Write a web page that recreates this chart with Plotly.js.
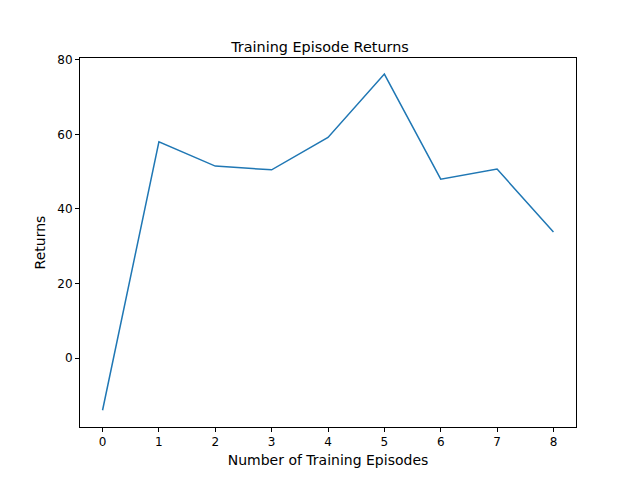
<!DOCTYPE html>
<html>
<head>
<meta charset="utf-8">
<script src="https://cdn.plot.ly/plotly-3.0.1.min.js"></script>
<style>html,body{margin:0;padding:0;background:#fff}</style>
</head>
<body>
<div id="chart" style="width:640px;height:480px"></div>
<script>
// Episode index and returns
const episodes = [0, 1, 2, 3, 4, 5, 6, 7, 8];
const returns = [-14, 58, 51.5, 50.5, 59.2, 76.2, 48, 50.7, 33.8];
const yTicks = [0, 20, 40, 60, 80];

const axisCommon = {
    showgrid: false,
    zeroline: false,
    showline: true,
    mirror: true,
    linecolor: '#000',
    linewidth: 1,
    ticks: 'outside',
    ticklen: 4,
    tickcolor: '#000',
    tickfont: { size: 12, color: '#000' }
};

Plotly.newPlot('chart', [{
    x: episodes,
    y: returns,
    type: 'scatter',
    mode: 'lines',
    line: { color: '#1f77b4', width: 1.5 }
}], {
    width: 640,
    height: 480,
    margin: { l: 80, r: 64, t: 58, b: 53 },
    paper_bgcolor: '#fff',
    plot_bgcolor: '#fff',
    font: { family: 'DejaVu Sans, sans-serif', size: 12, color: '#000' },
    title: {
        text: 'Training Episode Returns',
        font: { size: 14.4 },
        x: 0.5, xanchor: 'center',
        yref: 'paper', y: 1, yanchor: 'bottom',
        pad: { b: 6 }
    },
    showlegend: false,
    xaxis: Object.assign({}, axisCommon, {
        range: [-0.4, 8.4],
        tickvals: episodes,
        title: { text: 'Number of Training Episodes', standoff: 6 }
    }),
    yaxis: Object.assign({}, axisCommon, {
        range: [-18.5, 80.5],
        tickvals: yTicks,
        title: { text: 'Returns', standoff: 8 }
    })
}, { displayModeBar: false });
</script>
</body>
</html>
